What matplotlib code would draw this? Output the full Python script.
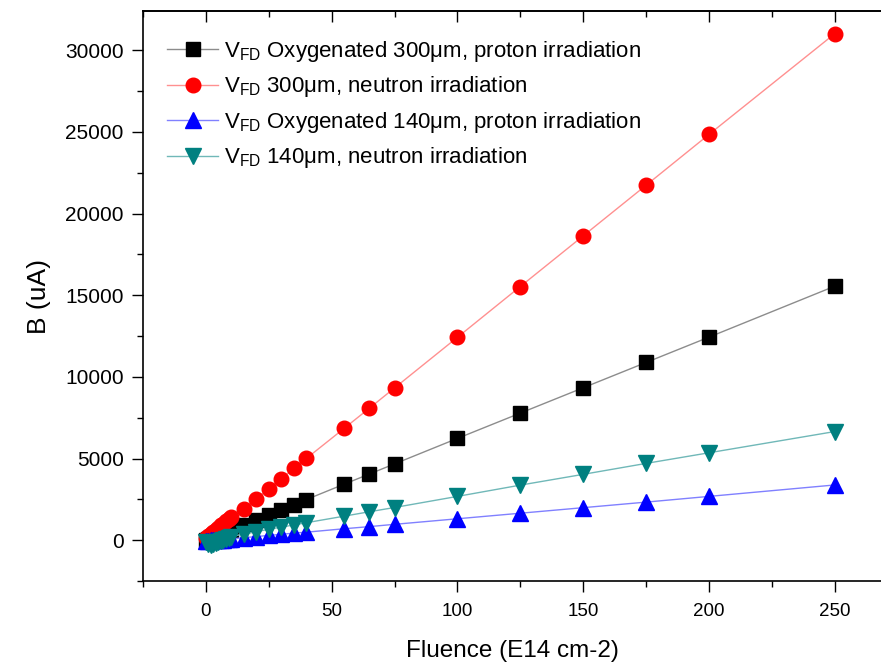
import matplotlib
matplotlib.use("Agg")
import matplotlib.pyplot as plt
from matplotlib.ticker import MultipleLocator

plt.rcParams['font.family'] = ['Liberation Sans', 'DejaVu Sans']
plt.rcParams['mathtext.fontset'] = 'custom'
plt.rcParams['mathtext.rm'] = 'Liberation Sans'
plt.rcParams['mathtext.it'] = 'Liberation Sans:italic'

fluence = [0, 1, 2, 3, 4, 5, 6, 7, 8, 9, 10, 15, 20, 25, 30, 35, 40,
           55, 65, 75, 100, 125, 150, 175, 200, 250]
ox300_proton = [0, 60, 125, 185, 250, 310, 370, 435, 495, 560, 620, 935, 1245,
                1560, 1870, 2180, 2490, 3430, 4050, 4670, 6230, 7780, 9330,
                10880, 12430, 15550]
n300_neutron = [150, 270, 400, 520, 650, 770, 900, 1020, 1150, 1270, 1400,
                1900, 2530, 3150, 3770, 4390, 5010, 6850, 8080, 9320, 12420,
                15530, 18630, 21730, 24840, 31010]
ox140_proton = [-50, -40, -20, -10, 0, 20, 30, 40, 60, 70, 80, 150, 220, 290,
                360, 430, 490, 700, 830, 970, 1310, 1650, 1990, 2330, 2680, 3380]
n140_neutron = [-100, -250, -280, -230, -180, -120, -60, 0, 60, 130, 200, 390,
                530, 660, 800, 930, 1070, 1470, 1740, 2000, 2680, 3370, 4030,
                4700, 5350, 6650]

labels = [r'V$_{\rm FD}$ Oxygenated 300μm, proton irradiation',
          r'V$_{\rm FD}$ 300μm, neutron irradiation',
          r'V$_{\rm FD}$ Oxygenated 140μm, proton irradiation',
          r'V$_{\rm FD}$ 140μm, neutron irradiation']

fig = plt.figure(figsize=(8.81, 6.69), dpi=100)
ax = fig.add_axes([143/881, 1-581/669, 1-143/881, (581-11)/669])

series = [
    (ox300_proton, 's', 'black', '#8c8c8c', 10),
    (n300_neutron, 'o', '#ff0000', '#ff9090', 10.5),
    (ox140_proton, '^', '#0000ff', '#8080ff', 11),
    (n140_neutron, 'v', '#008080', '#70b8b8', 11),
]
for (vals, mk, mc, lc, ms), lab in zip(series, labels):
    ax.plot(fluence, vals, color=lc, lw=1.0, marker=mk, markersize=ms,
            markerfacecolor=mc, markeredgecolor=mc, label=lab)

ax.set_xlim(-25, 268.4)
ax.set_ylim(-2500, 32400)
ax.xaxis.set_major_locator(MultipleLocator(50))
ax.xaxis.set_minor_locator(MultipleLocator(25))
ax.yaxis.set_major_locator(MultipleLocator(5000))
ax.yaxis.set_minor_locator(MultipleLocator(2500))

for s in ax.spines.values():
    s.set_linewidth(1.2)
ax.spines['right'].set_visible(False)

ax.tick_params(axis='both', which='major', direction='out', length=8, width=1.0)
ax.tick_params(axis='both', which='minor', direction='out', length=4, width=1.0)
ax.tick_params(axis='y', labelsize=15, pad=6)
ax.tick_params(axis='x', labelsize=13.5, pad=8)
for t in ax.get_xticklabels():
    t.set_family(['Liberation Sans Narrow', 'Liberation Sans'])

sec = ax.secondary_xaxis('top')
sec.xaxis.set_major_locator(MultipleLocator(50))
sec.xaxis.set_minor_locator(MultipleLocator(25))
sec.tick_params(which='major', direction='in', length=8, width=1.0, labeltop=False)
sec.tick_params(which='minor', direction='in', length=4, width=1.0)
sec.spines['top'].set_linewidth(1.2)

ax.set_xlabel('Fluence (E14 cm-2)', fontsize=17.5,
              family=['Liberation Sans Narrow', 'Liberation Sans'], labelpad=14)
ax.set_ylabel('B (uA)', fontsize=19, labelpad=10)

leg = ax.legend(loc='upper left', bbox_to_anchor=(167/881, 1-39/669),
                bbox_transform=fig.transFigure, frameon=False, fontsize=16,
                handlelength=2.3, handletextpad=0.27, labelspacing=0.47,
                borderpad=0, borderaxespad=0)

fig.savefig('out.png', dpi=100)
